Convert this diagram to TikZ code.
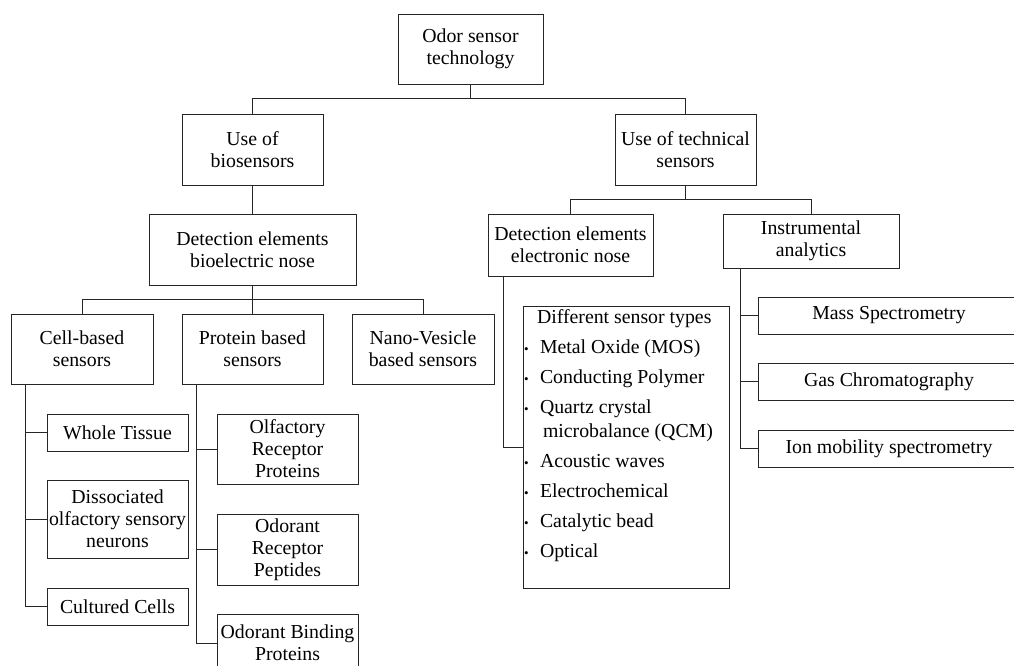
\documentclass[tikz,border=0pt]{standalone}
\usepackage{fontspec}
\setmainfont{Liberation Serif}
\usetikzlibrary{positioning}

\newcommand{\bul}{\makebox[17pt][l]{\hspace{1pt}{\fontsize{13}{13}\selectfont\textbullet}}}

\begin{document}
\begin{tikzpicture}[x=1pt, y=-1pt,
  box/.style={draw=black!85, line width=0.8pt, align=center, inner sep=1pt,
    font=\fontsize{19.8}{22}\selectfont},
  wh/.style 2 args={minimum width=#1pt, minimum height=#2pt},
  listbox/.style={draw=black!85, line width=0.8pt, inner sep=0pt,
    font=\fontsize{19.8}{24}\selectfont},
  link/.style={draw=black!85, line width=0.8pt}]

  \useasboundingbox (0,0) rectangle (1014,666);

  % top of the tree
  \node [box, wh={145}{70}] (odor) at (470.5,49) {Odor sensor\\technology};
  \node [box, wh={141}{71}] (bio) at (252.5,149.5) {Use of\\biosensors};
  \node [box, wh={141}{71}] (tech) at (685.5,149.5) {Use of technical\\sensors};

  % biosensor branch
  \begin{scope}
    \node [box, wh={207}{71}] (bnose) at (252.5,249.5) {Detection elements\\bioelectric nose};
    \node [box, wh={142}{70}] (cell) at (82,349) {Cell-based\\sensors};
    \node [box, wh={141}{70}] (prot) at (252.5,349) {Protein based\\sensors};
    \node [box, wh={142}{70}] (nano) at (423,349) {Nano-Vesicle\\based sensors};

    \node [box, wh={141}{37}] (tissue) at (117.5,432.5) {Whole Tissue};
    \node [box, wh={141}{78}] (osn) at (117.5,519) {Dissociated\\olfactory sensory\\neurons};
    \node [box, wh={141}{37}] (cult) at (117.5,606.5) {Cultured Cells};

    \node [box, wh={141}{70}] (orp) at (287.5,449) {Olfactory\\Receptor\\Proteins};
    \node [box, wh={141}{71}] (orpep) at (287.5,549.5) {Odorant\\Receptor\\Peptides};
    \node [box, wh={141}{58}] (obp) at (287.5,643) {Odorant Binding\\Proteins};
  \end{scope}

  % technical branch
  \begin{scope}
    \node [box, wh={165}{62}] (enose) at (570.5,245) {Detection elements\\electronic nose};
    \node [box, wh={176}{54}] (instr) at (811,241) {Instrumental\\analytics};

    \node [listbox] (types) at (626,447) {\parbox[c][282pt][t]{206pt}{%
      \rule{0pt}{17pt}\hspace*{14pt}Different sensor types\\[6pt]
      \bul Metal Oxide (MOS)\\[6pt]
      \bul Conducting Polymer\\[6pt]
      \bul Quartz crystal\\
      \hspace*{20pt}microbalance (QCM)\\[6pt]
      \bul Acoustic waves\\[6pt]
      \bul Electrochemical\\[6pt]
      \bul Catalytic bead\\[6pt]
      \bul Optical}};

    \node [box, wh={262}{37}] (ms) at (889,315.5) {Mass Spectrometry};
    \node [box, wh={262}{37}] (gc) at (889,381.5) {Gas Chromatography};
    \node [box, wh={262}{37}] (ims) at (889,448.5) {Ion mobility spectrometry};
  \end{scope}

  % connectors
  \draw [link] (odor.south) -- ++(0,15);
  \draw [link] (bio.north) -- ++(0,-15) -| (tech.north);
  \draw [link] (bio.south) -- (bnose.north);
  \draw [link] (bnose.south) -- (prot.north);
  \draw [link] (cell.north) -- ++(0,-14) -| (nano.north);
  \draw [link] (tech.south) -- ++(0,15);
  \draw [link] (enose.north) -- ++(0,-14) -| (instr.north);

  \coordinate (cellx) at ([xshift=15pt]cell.south west);
  \coordinate (protx) at ([xshift=15pt]prot.south west);
  \coordinate (enosex) at ([xshift=16pt]enose.south west);
  \coordinate (instrx) at ([xshift=18pt]instr.south west);

  \foreach \n in {tissue, osn, cult}
    \draw [link] (cellx) |- (\n.west);
  \foreach \n in {orp, orpep, obp}
    \draw [link] (protx) |- (\n.west);
  \draw [link] (enosex) |- (types.west);
  \foreach \n in {ms, gc, ims}
    \draw [link] (instrx) |- (\n.west);
\end{tikzpicture}
\end{document}
